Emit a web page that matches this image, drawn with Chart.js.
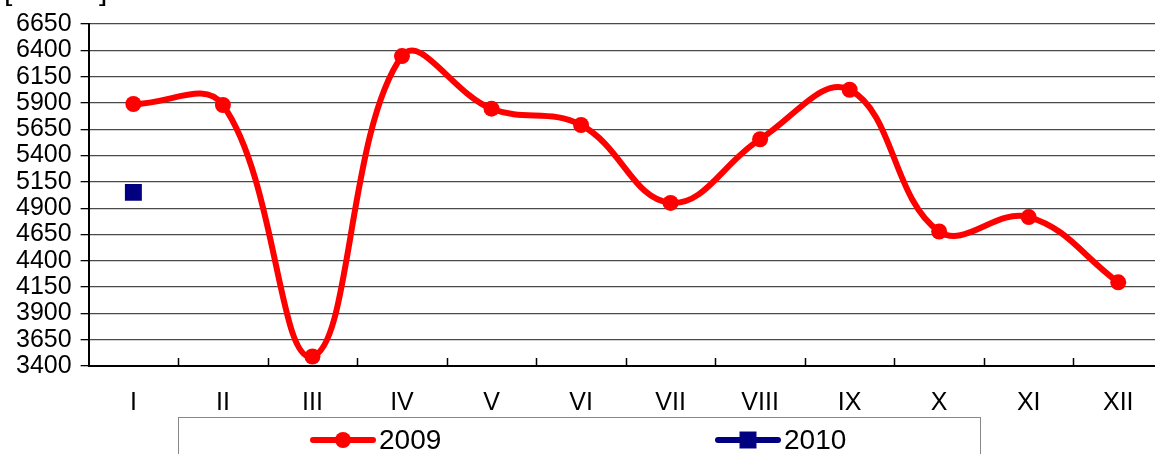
<!DOCTYPE html>
<html>
<head>
<meta charset="utf-8">
<script src="https://cdn.jsdelivr.net/npm/chart.js@4.4.1/dist/chart.umd.min.js"></script>
<style>
  html, body { margin: 0; padding: 0; background: #fff; overflow: hidden; }
  .wrap { position: relative; width: 1175px; height: 454px; }
</style>
</head>
<body>
<div class="wrap"><canvas id="monthChart"></canvas></div>
<script>
const months = ['I', 'II', 'III', 'IV', 'V', 'VI', 'VII', 'VIII', 'IX', 'X', 'XI', 'XII'];
const values2009 = [5890, 5880, 3490, 6345, 5845, 5690, 4950, 5555, 6025, 4678, 4815, 4195];
const values2010 = [5050, null, null, null, null, null, null, null, null, null, null, null];
const yMin = 3400;
const yMax = 6650;
const yStep = 250;
const unitLabel = '[ MWh ]';

const font = 'Liberation Sans, Arial, sans-serif';

// ticks between categories, pointing up into the plot
const innerTicks = {
    id: 'innerTicks',
    beforeDatasetsDraw(chart) {
        const x = chart.scales.x;
        const c = chart.ctx;
        const bottom = chart.chartArea.bottom;
        const step = x.getPixelForValue(1) - x.getPixelForValue(0);
        c.save();
        c.strokeStyle = '#000';
        c.lineWidth = 1.5;
        for (let i = 0; i < months.length; i++) {
            const xx = Math.round(x.getPixelForValue(i) + step / 2) + 0.5;
            c.beginPath();
            c.moveTo(xx, bottom);
            c.lineTo(xx, bottom - 8);
            c.stroke();
        }
        c.restore();
    }
};

// boxed legend at the bottom and the cut-off unit label at the top
const boxLegend = {
    id: 'boxLegend',
    afterDraw(chart) {
        const c = chart.ctx;
        c.save();
        c.fillStyle = '#000';
        c.font = '30px ' + font;
        c.textAlign = 'left';
        c.textBaseline = 'alphabetic';
        c.fillText(unitLabel, 4, 0);

        c.strokeStyle = '#888';
        c.lineWidth = 1;
        c.strokeRect(178.5, 417.5, 802, 60);

        const items = [
            { ds: chart.data.datasets[0], x: 313 },
            { ds: chart.data.datasets[1], x: 718 }
        ];
        const cy = 440;
        items.forEach(it => {
            c.strokeStyle = it.ds.borderColor;
            c.lineWidth = 6;
            c.lineCap = 'round';
            c.beginPath();
            c.moveTo(it.x, cy);
            c.lineTo(it.x + 60, cy);
            c.stroke();
            c.fillStyle = it.ds.pointBackgroundColor;
            c.beginPath();
            if (it.ds.pointStyle === 'rect') {
                const s = it.ds.pointRadius * Math.SQRT1_2;
                c.rect(it.x + 30 - s, cy - s, 2 * s, 2 * s);
            } else {
                c.arc(it.x + 30, cy, it.ds.pointRadius, 0, Math.PI * 2);
            }
            c.fill();
            c.fillStyle = '#000';
            c.font = '28px ' + font;
            c.textBaseline = 'middle';
            c.fillText(it.ds.label, it.x + 66, cy + 1);
        });
        c.restore();
    }
};

const ctx = document.getElementById('monthChart').getContext('2d');

new Chart(ctx, {
    type: 'line',
    data: {
        labels: months,
        datasets: [{
            label: '2009',
            data: values2009,
            borderColor: '#ff0000',
            backgroundColor: '#ff0000',
            borderWidth: 6,
            tension: 0.4,
            fill: false,
            pointStyle: 'circle',
            pointRadius: 8,
            pointBorderWidth: 0,
            pointBackgroundColor: '#ff0000'
        }, {
            label: '2010',
            data: values2010,
            borderColor: '#000080',
            backgroundColor: '#000080',
            borderWidth: 6,
            fill: false,
            showLine: false,
            pointStyle: 'rect',
            pointRadius: 12,
            pointBorderWidth: 0,
            pointBackgroundColor: '#000080'
        }]
    },
    options: {
        responsive: true,
        maintainAspectRatio: false,
        animation: false,
        layout: {
            padding: { top: 18, left: 7, right: 7, bottom: 14 }
        },
        scales: {
            x: {
                offset: true,
                grid: { display: false, drawTicks: false },
                border: { display: true, color: '#000', width: 2 },
                ticks: {
                    padding: 22,
                    color: '#000',
                    font: { family: font, size: 25 }
                }
            },
            y: {
                min: yMin,
                max: yMax,
                grid: {
                    color: '#4a4a4a',
                    lineWidth: 1.3,
                    drawTicks: true,
                    tickLength: 8,
                    tickColor: '#000'
                },
                border: { display: true, color: '#000', width: 2 },
                ticks: {
                    stepSize: yStep,
                    autoSkip: false,
                    padding: 9,
                    color: '#000',
                    font: { family: font, size: 25 },
                    callback: v => String(v)
                }
            }
        },
        plugins: {
            legend: { display: false },
            tooltip: { enabled: false }
        }
    },
    plugins: [innerTicks, boxLegend]
});
</script>
</body>
</html>
